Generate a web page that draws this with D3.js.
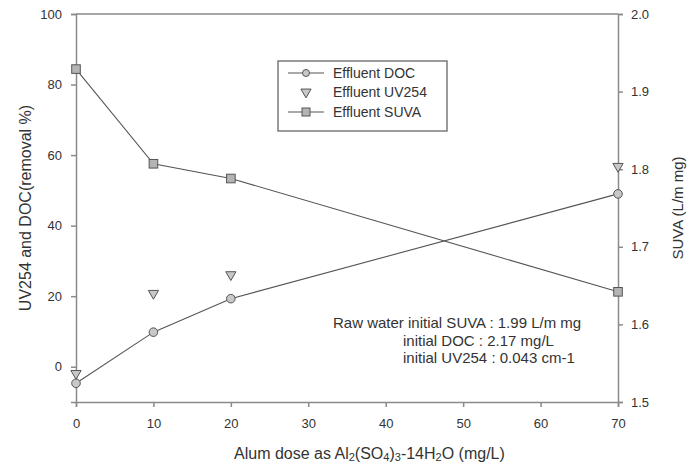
<!DOCTYPE html>
<html>
<head>
<meta charset="utf-8">
<script src="https://cdn.jsdelivr.net/npm/d3@7"></script>
<style>
  body { margin: 0; background: #fff; }
  text { font-family: "Liberation Sans", Arial, sans-serif; fill: #333; }
</style>
</head>
<body>
<div id="chart"></div>
<script>
// Chart data
const doses = [0, 10, 20, 70];
const docRemoval = [-4.7, 9.8, 19.3, 49.0];
const uvRemoval = [-1.9, 20.8, 26.1, 56.8];
const suva = [1.929, 1.807, 1.788, 1.642];

const xTicks = [0, 10, 20, 30, 40, 50, 60, 70];
const leftTicks = [0, 20, 40, 60, 80, 100];
const rightTicks = [1.5, 1.6, 1.7, 1.8, 1.9, 2.0];

const notes = [
    "Raw water initial SUVA : 1.99 L/m mg",
    "initial DOC : 2.17 mg/L",
    "initial UV254 : 0.043 cm-1"
];

const width = 687;
const height = 465;
const margin = { top: 14, right: 69, bottom: 63, left: 76 };

const svg = d3.select("#chart")
    .append("svg")
    .attr("width", width)
    .attr("height", height);

const x = d3.scaleLinear().domain([0, 70]).range([margin.left, width - margin.right]);
const yLeft = d3.scaleLinear().domain([-10, 100]).range([height - margin.bottom, margin.top]);
const yRight = d3.scaleLinear().domain([1.5, 2.0]).range([height - margin.bottom, margin.top]);

const axisColor = "#8a8a8a";
const lineColor = "#555";

// axes
const gx = svg.append("g")
    .attr("transform", `translate(0,${height - margin.bottom})`)
    .call(d3.axisBottom(x).tickValues(xTicks).tickSize(5).tickPadding(12));

const gl = svg.append("g")
    .attr("transform", `translate(${margin.left},0)`)
    .call(d3.axisLeft(yLeft).tickValues(leftTicks).tickSize(5).tickPadding(9));

const gr = svg.append("g")
    .attr("transform", `translate(${width - margin.right},0)`)
    .call(d3.axisRight(yRight).tickValues(rightTicks).tickFormat(d3.format(".1f")).tickSize(5).tickPadding(8));

[gx, gl, gr].forEach(g => {
    g.select(".domain").attr("stroke", axisColor).attr("stroke-width", 1.5);
    g.selectAll(".tick line").attr("stroke", axisColor).attr("stroke-width", 1.5);
    g.selectAll(".tick text").style("font-size", "13px").attr("fill", "#333");
});

// top frame line
svg.append("line")
    .attr("x1", margin.left).attr("x2", width - margin.right)
    .attr("y1", margin.top).attr("y2", margin.top)
    .attr("stroke", axisColor).attr("stroke-width", 1.5);

// axis titles
const xTitle = svg.append("text")
    .attr("x", 234)
    .attr("y", 459)
    .style("font-size", "16px");
xTitle.append("tspan").text("Alum dose as Al");
xTitle.append("tspan").text("2").style("font-size", "11px").attr("dy", 2);
xTitle.append("tspan").text("(SO").attr("dy", -2);
xTitle.append("tspan").text("4").style("font-size", "11px").attr("dy", 2);
xTitle.append("tspan").text(")").attr("dy", -2);
xTitle.append("tspan").text("3").style("font-size", "11px").attr("dy", 2);
xTitle.append("tspan").text("-14H").attr("dy", -2);
xTitle.append("tspan").text("2").style("font-size", "11px").attr("dy", 2);
xTitle.append("tspan").text("O (mg/L)").attr("dy", -2);

const midY = (margin.top + height - margin.bottom) / 2;
svg.append("text")
    .attr("transform", `translate(31,${midY}) rotate(-90)`)
    .attr("text-anchor", "middle")
    .style("font-size", "16px")
    .text("UV254 and DOC(removal %)");

svg.append("text")
    .attr("transform", `translate(683,${midY}) rotate(-90)`)
    .attr("text-anchor", "middle")
    .style("font-size", "15px")
    .text("SUVA (L/m mg)");

// series
const docData = doses.map((d, i) => ({ x: d, y: docRemoval[i] }));
const uvData = doses.map((d, i) => ({ x: d, y: uvRemoval[i] }));
const suvaData = doses.map((d, i) => ({ x: d, y: suva[i] }));

const line = scale => d3.line().x(d => x(d.x)).y(d => scale(d.y));

svg.append("path")
    .datum(suvaData)
    .attr("d", line(yRight))
    .attr("fill", "none")
    .attr("stroke", lineColor)
    .attr("stroke-width", 1.1);

svg.append("path")
    .datum(docData)
    .attr("d", line(yLeft))
    .attr("fill", "none")
    .attr("stroke", lineColor)
    .attr("stroke-width", 1.1);

const tri = d3.symbol().type(d3.symbolTriangle).size(45);

svg.append("g").selectAll("path")
    .data(uvData)
    .join("path")
    .attr("d", tri)
    .attr("transform", d => `translate(${x(d.x)},${yLeft(d.y)}) rotate(180)`)
    .attr("fill", "#c8c8c8")
    .attr("stroke", "#555")
    .attr("stroke-width", 1);

svg.append("g").selectAll("circle")
    .data(docData)
    .join("circle")
    .attr("cx", d => x(d.x))
    .attr("cy", d => yLeft(d.y))
    .attr("r", 4.3)
    .attr("fill", "#c8c8c8")
    .attr("stroke", "#555")
    .attr("stroke-width", 1);

svg.append("g").selectAll("rect")
    .data(suvaData)
    .join("rect")
    .attr("x", d => x(d.x) - 4.3)
    .attr("y", d => yRight(d.y) - 4.3)
    .attr("width", 8.6)
    .attr("height", 8.6)
    .attr("fill", "#b4b4b4")
    .attr("stroke", "#555")
    .attr("stroke-width", 1);

// legend
const legend = svg.append("g");
legend.append("rect")
    .attr("x", 278).attr("y", 61)
    .attr("width", 169).attr("height", 70)
    .attr("fill", "#fff")
    .attr("stroke", "#666")
    .attr("stroke-width", 1.3);

const legendItems = [
    { label: "Effluent DOC", kind: "circle", y: 73 },
    { label: "Effluent UV254", kind: "tri", y: 92 },
    { label: "Effluent SUVA", kind: "square", y: 112 }
];

legendItems.forEach(item => {
    if (item.kind !== "tri") {
        legend.append("line")
            .attr("x1", 288).attr("x2", 324)
            .attr("y1", item.y).attr("y2", item.y)
            .attr("stroke", lineColor).attr("stroke-width", 1.1);
    }
    if (item.kind === "circle") {
        legend.append("circle").attr("cx", 306).attr("cy", item.y).attr("r", 3.5)
            .attr("fill", "#c8c8c8").attr("stroke", "#555");
    } else if (item.kind === "tri") {
        legend.append("path").attr("d", tri)
            .attr("transform", `translate(306,${item.y}) rotate(180)`)
            .attr("fill", "#c8c8c8").attr("stroke", "#555");
    } else {
        legend.append("rect").attr("x", 302).attr("y", item.y - 4)
            .attr("width", 8).attr("height", 8)
            .attr("fill", "#b4b4b4").attr("stroke", "#555");
    }
    legend.append("text")
        .attr("x", 333).attr("y", item.y + 5)
        .style("font-size", "14px")
        .text(item.label);
});

// annotation
svg.append("text").attr("x", 333).attr("y", 328).style("font-size", "15px").text(notes[0]);
svg.append("text").attr("x", 403).attr("y", 346).style("font-size", "15px").text(notes[1]);
svg.append("text").attr("x", 403).attr("y", 363).style("font-size", "15px").text(notes[2]);
</script>
</body>
</html>
